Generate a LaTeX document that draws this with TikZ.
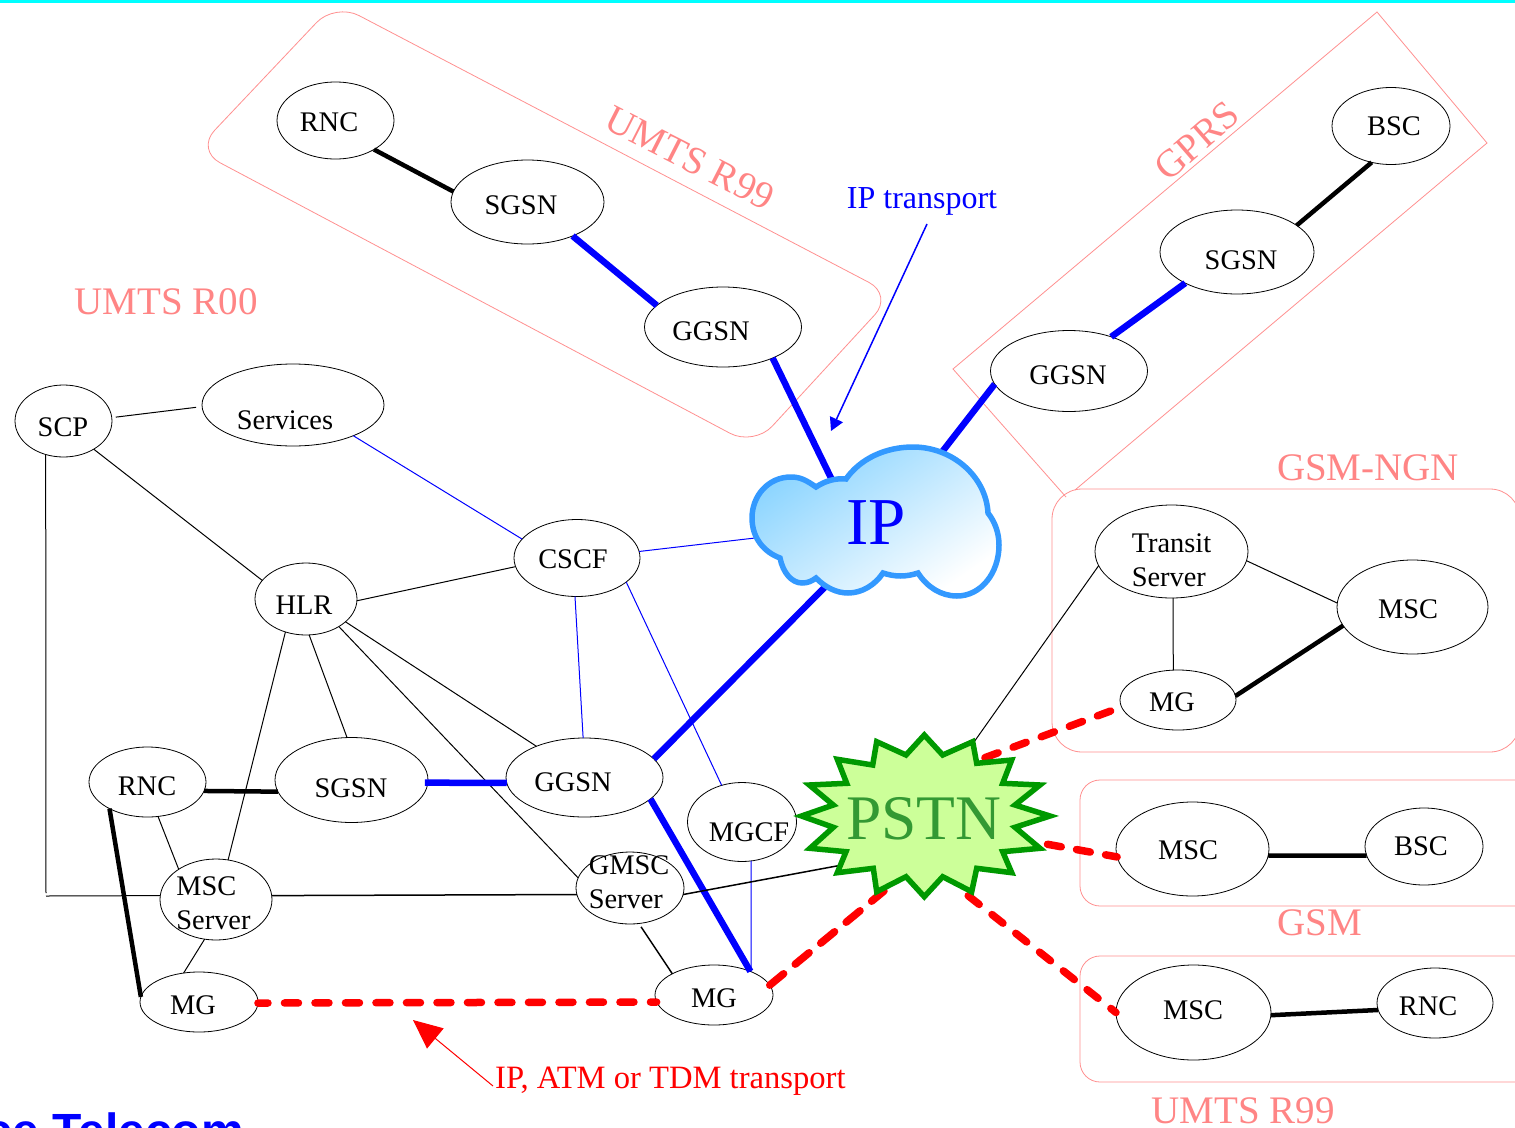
\documentclass[tikz,border=0pt]{standalone}
\usepackage{fontspec}
\setmainfont{Liberation Serif}
\newfontfamily\arialbold{Liberation Sans}[BoldFont={Liberation Sans Bold}]
\usetikzlibrary{shapes.geometric,arrows.meta}
\definecolor{regionc}{HTML}{FF9090}
\definecolor{regiont}{HTML}{FF8585}
\definecolor{cloudl}{HTML}{3399FF}
\definecolor{cloudf}{HTML}{8AD4FF}
\definecolor{stard}{HTML}{009900}
\definecolor{starf}{HTML}{CCFF99}
\definecolor{start}{HTML}{339933}
\definecolor{topline}{HTML}{00FFFF}
\tikzset{
 ell/.style={ellipse,draw=black,line width=0.8,inner sep=0,outer sep=0},
 txt/.style={font=\fontsize{28.4}{33}\selectfont,inner sep=0,text height=18.5,text depth=0},
 txtm/.style={font=\fontsize{28.4}{34}\selectfont,inner sep=0,align=left},
 regt/.style={font=\fontsize{39}{40}\selectfont,inner sep=0,text=regiont,text height=25.5,text depth=0},
 region/.style={draw=regionc,line width=0.8},
 thinb/.style={draw=black,line width=1},
 thickb/.style={draw=black,line width=4.5},
 thinbl/.style={draw=blue,line width=1},
 thickbl/.style={draw=blue,line width=6.5},
 reddash/.style={draw=red,line width=7.5,line cap=round,line join=round},
}
\begin{document}
\begin{tikzpicture}[x=1pt,y=-1pt]
\useasboundingbox (0,0) rectangle (1515,1127);
\clip (0,0) rectangle (1515,1127);
\fill[white] (0,0) rectangle (1515,1127);
\fill[topline] (0,0) rectangle (1515,3);

% regions
\draw[region,rounded corners=27] (335,3) -- (893,295) -- (754,446) -- (196,150) -- cycle;
\draw[region] (1066,497) -- (953,369) -- (1377,12) -- (1487,143) -- (1075,490);
\draw[region,rounded corners=30] (1052,489) rectangle (1520,752);
\draw[region,rounded corners=20] (1530,906) -- (1080,906) -- (1080,780) -- (1530,780);
\draw[region,rounded corners=20] (1530,1082) -- (1080,1082) -- (1080,956) -- (1530,956);

\node[regt,rotate=-27] (lumtsa) at (690,158) {UMTS R99};
\node[regt,rotate=41] (lgprs) at (1197,141) {GPRS};
\node[regt] (lumtsb) at (166,302) {UMTS R00};
\node[regt] (lngn) at (1368,468) {GSM-NGN};
\node[regt] (lgsm) at (1320,923) {GSM};
\node[regt] (lumtsc) at (1243,1111) {UMTS R99};

% nodes
\node[ell,minimum width=117,minimum height=77] (rncA) at (335.5,120.5) {};
\node[txt] (rncAt) at (329,122) {RNC};
\node[ell,minimum width=153,minimum height=84] (sgsnA) at (527.5,202) {};
\node[txt] (sgsnAt) at (521,205) {SGSN};
\node[ell,minimum width=157,minimum height=80] (ggsnA) at (723,327) {};
\node[txt] (ggsnAt) at (711,331) {GGSN};
\node[ell,minimum width=118,minimum height=77] (bscB) at (1391,126) {};
\node[txt] (bscBt) at (1394,126) {BSC};
\node[ell,minimum width=154,minimum height=84] (sgsnB) at (1237,252) {};
\node[txt] (sgsnBt) at (1241,260) {SGSN};
\node[ell,minimum width=157,minimum height=81] (ggsnB) at (1069,371) {};
\node[txt] (ggsnBt) at (1068,375) {GGSN};
\node[ell,minimum width=97,minimum height=72] (scp) at (63.5,421) {};
\node[txt] (scpt) at (63,427) {SCP};
\node[ell,minimum width=182,minimum height=82] (serv) at (293,405) {};
\node[txt] (servt) at (285,420) {Services};
\node[ell,minimum width=126,minimum height=77] (cscf) at (577,558) {};
\node[txt] (cscft) at (573,559) {CSCF};
\node[ell,minimum width=102,minimum height=72] (hlr) at (306,599) {};
\node[txt] (hlrt) at (304,605) {HLR};
\node[ell,minimum width=117,minimum height=70] (rnc) at (147.5,782) {};
\node[txt] (rnct) at (147,786) {RNC};
\node[ell,minimum width=153,minimum height=85] (sgsn) at (351.5,780) {};
\node[txt] (sgsnt) at (351,788) {SGSN};
\node[ell,minimum width=157,minimum height=79] (ggsn) at (584.5,777.5) {};
\node[txt] (ggsnt) at (573,782) {GGSN};
\node[ell,minimum width=109,minimum height=79] (mgcf) at (742,822) {};
\node[txt] (mgcft) at (749,832) {MGCF};
\node[ell,minimum width=108,minimum height=72] (gmsc) at (630,888) {};
\node[txtm] (gmsct) at (629,882) {GMSC\\Server};
\node[ell,minimum width=112,minimum height=81] (mscs) at (216,899.5) {};
\node[txtm] (mscst) at (213.5,903.5) {MSC\\Server};
\node[ell,minimum width=118,minimum height=60] (mgl) at (199,1002) {};
\node[txt] (mglt) at (193,1005) {MG};
\node[ell,minimum width=118,minimum height=60] (mgm) at (714,995) {};
\node[txt] (mgmt) at (714,998) {MG};
\node[ell,minimum width=153,minimum height=93] (trans) at (1171.5,551.5) {};
\node[txtm] (transt) at (1171.5,560.5) {Transit\\Server};
\node[ell,minimum width=151,minimum height=94] (mscn) at (1412.5,607) {};
\node[txt] (mscnt) at (1408,609) {MSC};
\node[ell,minimum width=116,minimum height=60] (mgn) at (1178,700) {};
\node[txt] (mgnt) at (1172,702) {MG};
\node[ell,minimum width=153,minimum height=94] (mscg) at (1192.5,849) {};
\node[txt] (mscgt) at (1188,850) {MSC};
\node[ell,minimum width=118,minimum height=77] (bscg) at (1424,846.5) {};
\node[txt] (bscgt) at (1421,846) {BSC};
\node[ell,minimum width=155,minimum height=95] (mscu) at (1193.5,1012.5) {};
\node[txt] (mscut) at (1193,1010) {MSC};
\node[ell,minimum width=116,minimum height=70] (rncu) at (1435,1003) {};
\node[txt] (rncut) at (1428,1006) {RNC};

% free ends on the cloud and the star
\coordinate (ipN) at (832,480);
\coordinate (ipNE) at (942,452);
\coordinate (ipW) at (755,538);
\coordinate (ipS) at (826,586);
\coordinate (pP) at (842,865);
\coordinate (pTR) at (974,742);
\coordinate (pNGN) at (984,758);
\coordinate (pGSM) at (1046,844);
\coordinate (pUM) at (966,894);
\coordinate (pMG) at (884,891);
\coordinate (lft) at (46,893);
\coordinate (lftb) at (46,896);

% connectors
\draw[thickb] (rncA.-37.8) -- (sgsnA.172.4);
\draw[thickbl] (sgsnA.-37) -- (ggsnA.162.6);
\draw[thickbl] (ggsnA.-32.3) -- (ipN);
\draw[thickbl] (ggsnB.190.5) -- (ipNE);
\draw[thickbl] (sgsnB.211.9) -- (ggsnB.39.9);
\draw[thickb] (bscB.242.2) -- (sgsnB.24);
\draw[thinb,shorten <=4,shorten >=6] (scp.4.4) -- (serv.181.8);
\draw[thinb] (scp.-43.5) -- (hlr.157.4);
\draw[thinb] (scp.242.8) -- (lft);
\draw[thinb] (lftb) -- (mscs.176.4);
\draw[thinb,line width=1.5] (mscs.4.6) -- (gmsc.187.4);
\draw[thinbl] (serv.-27) -- (cscf.161.6);
\draw[thinb] (hlr.-2.2) -- (cscf.188.3);
\draw[thinbl] (cscf.6.7) -- (ipW);
\draw[thinbl] (cscf.267) -- (ggsn.92);
\draw[thinbl] (cscf.-26.6) -- (mgcf.119);
\draw[thinb] (hlr.-30.5) -- (ggsn.147.5);
\draw[thinb] (hlr.-40.9) -- (gmsc.169.7);
\draw[thinb] (hlr.-85) -- (sgsn.96);
\draw[thinb] (hlr.238) -- (mscs.73.9);
\draw[thickb] (rnc.-9.5) -- (sgsn.189.7);
\draw[thickbl,shorten <=-3] (sgsn.-2.3) -- (ggsn.184);
\draw[thinb] (rnc.-73.5) -- (mscs.141.3);
\draw[thickb] (rnc.215.5) -- (mgl.175);
\draw[thinb] (mscs.254.8) -- (mgl.118);
\draw[thickbl] (ggsn.-18.2) -- (mgm.33);
\draw[thickbl] (ipS) -- (ggsn.15.8);
\draw[thinb,line width=1.5,shorten <=4] (gmsc.-76) -- (mgm.153.4);
\draw[thinbl] (mgcf.-77.6) -- (mgm.32);
\draw[thinb,line width=1.5] (gmsc.-7.3) -- (pP);
\draw[reddash,dash pattern=on 14pt off 16.5pt,dash phase=4pt] (mgl.-1) -- (mgm.187.7);
\draw[reddash,dash pattern=on 18pt off 15pt] (mgm.10) -- (pMG);
\draw[reddash,dash pattern=on 14pt off 16pt,dash phase=29pt] (pNGN) -- (mgn.187.4);
\draw[reddash,dash pattern=on 14pt off 15.5pt,dash phase=28pt] (pGSM) -- (mscg.186.4);
\draw[reddash,dash pattern=on 14pt off 16.3pt,dash phase=27.5pt] (pUM) -- (mscu.180);
\draw[thinb] (trans.191.8) -- (pTR);
\draw[thinb] (trans.-7.9) -- (mscn.177);
\draw[thinb] (trans.-88) -- (mgn.99);
\draw[thickb] (mgn.4) -- (mscn.195.3);
\draw[thickb] (mscg.-5) -- (bscg.189);
\draw[thickb] (mscu.-2.6) -- (rncu.187.9);

% cloud
\path[draw=cloudl,line width=5.5,top color=cloudf,bottom color=white,shading angle=35]
 (816,487) .. controls (806,480) and (800,477) .. (791,477)
 .. controls (768,477) and (752,496) .. (752,518)
 .. controls (752,538) and (764,552) .. (780,558)
 .. controls (783,573) and (792,583) .. (802,583)
 .. controls (808,583) and (812,581) .. (816,578)
 .. controls (825,587) and (836,593) .. (848,593)
 .. controls (862,593) and (875,585) .. (883,573)
 .. controls (895,577) and (906,577) .. (918,573)
 .. controls (927,587) and (941,596) .. (957,596)
 .. controls (981,596) and (999,573) .. (999,545)
 .. controls (999,533) and (995,522) .. (988,513)
 .. controls (986,476) and (952,447) .. (913,447)
 .. controls (885,447) and (860,459) .. (846,479)
 .. controls (835,478) and (825,481) .. (816,487) -- cycle;
\node[inner sep=0,text=blue,font=\fontsize{67}{67}\selectfont,text height=44,text depth=0] (ip) at (876,522) {IP};

% star
\path[draw=stard,fill=starf,line width=5.5,miter limit=10]
 (924.3,735) -- (942.7,755) -- (972.7,741.7) -- (976.7,763.3) -- (1011.7,760) -- (1002.7,783.3)
 -- (1040,785) -- (1015,805) -- (1050,816) -- (1015,827.3) -- (1040,848.3) -- (1002.7,851.7)
 -- (1011.7,872.7) -- (976.7,868.3) -- (971.7,891.7) -- (942.7,876.7) -- (924.3,896.7) -- (906,876.7)
 -- (876.7,891.7) -- (873.3,868.3) -- (837.3,872.7) -- (846,851.7) -- (810,848.3) -- (833.3,827.3)
 -- (801.5,816) -- (833.3,805) -- (809.3,785) -- (846.7,783.3) -- (837.3,759.3) -- (872.7,765)
 -- (876.7,741.7) -- (906,755) -- cycle;
\node[inner sep=0,text=start,font=\fontsize{63.5}{64}\selectfont,text height=42,text depth=0] (pstn) at (924,818) {PSTN};

% annotations
\node[inner sep=0,text=blue,font=\fontsize{32}{34}\selectfont,anchor=base] (tipt) at (922,208) {IP transport};
\coordinate (tipa) at (927,224);
\coordinate (tipb) at (831,431);
\draw[blue,line width=1.5,-{Triangle[length=13,width=14]}] (tipa) -- (tipb);
\node[inner sep=0,text=red,font=\fontsize{32.6}{34}\selectfont,anchor=base west] (tred) at (495,1088) {IP, ATM or TDM transport};
\coordinate (tra) at (493,1086);
\coordinate (trb) at (413,1020);
\draw[red,line width=1,-{Triangle[length=29,width=26]}] (tra) -- (trb);
\node[inner sep=0,text=blue,font=\arialbold\bfseries\fontsize{48}{48}\selectfont,anchor=base east] (logo) at (244,1147) {ce Telecom};
\end{tikzpicture}
\end{document}
